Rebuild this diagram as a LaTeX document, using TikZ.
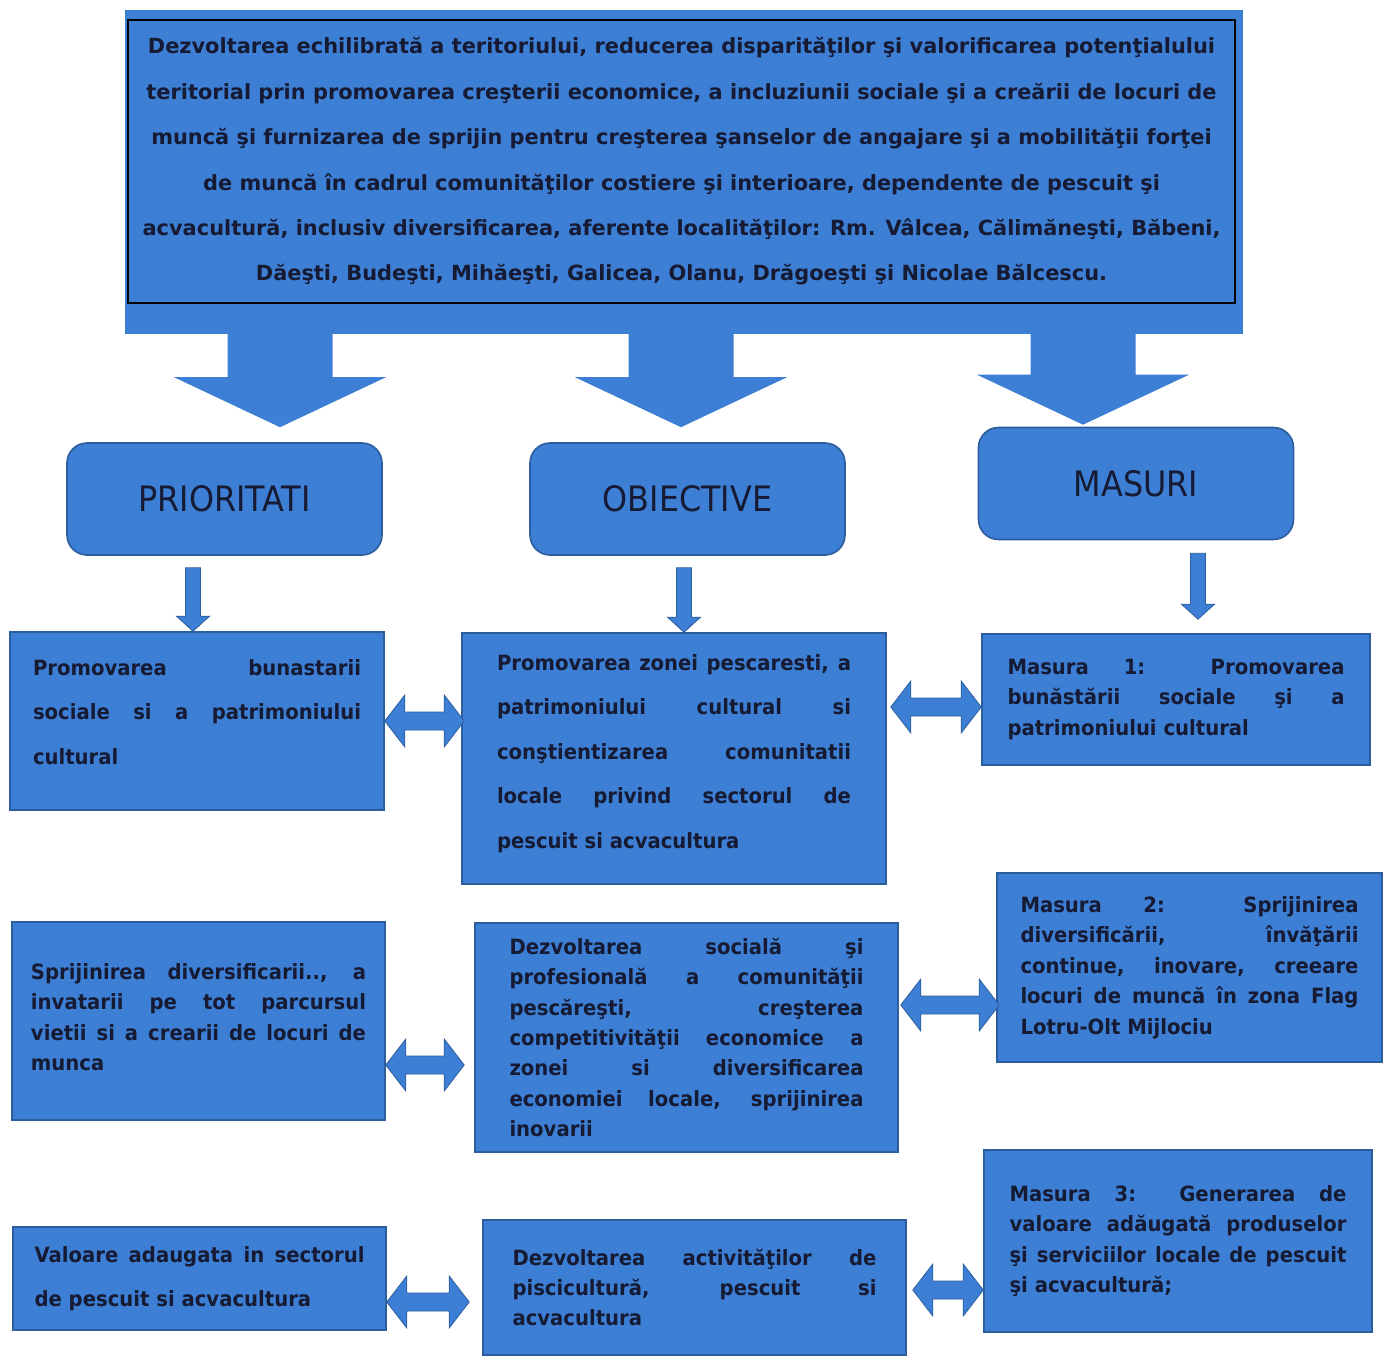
\documentclass[tikz,border=0pt]{standalone}
\usepackage{fontspec}
\setmainfont[FakeStretch=0.935]{DejaVu Sans}
\newfontfamily\titlefont[FakeStretch=0.91]{DejaVu Sans}
\newfontfamily\topfont{DejaVu Sans}
\usetikzlibrary{calc}
\definecolor{boxblue}{HTML}{3D7FD4}
\definecolor{edgeblue}{HTML}{2C5E9E}
\definecolor{ink}{HTML}{161A33}
\tikzset{
  box/.style={draw=edgeblue, fill=boxblue, line width=0.8pt, inner sep=0pt, text=ink, align=justify},
  headbox/.style={draw=edgeblue, fill=boxblue, line width=0.8pt, rounded corners=10pt, inner sep=0pt,
    text=ink, font=\titlefont\fontsize{17.5}{20}\selectfont, minimum width=157.5pt, minimum height=56pt},
  tightfont/.style={font=\bfseries\fontsize{10.5}{15.2}\selectfont},
  loosefont/.style={font=\bfseries\fontsize{10.5}{22.2}\selectfont},
  afill/.style={fill=boxblue, draw=edgeblue, line width=0.4pt},
  bigfill/.style={fill=boxblue},
}
\newcommand\BigDown[2]{\fill[bigfill] ($(#1)+(-26.25pt,0)$) -- ($(#2)+(-26.25pt,25pt)$) -- ($(#2)+(-53pt,25pt)$) -- (#2) -- ($(#2)+(53pt,25pt)$) -- ($(#2)+(26.25pt,25pt)$) -- ($(#1)+(26.25pt,0)$) -- cycle;}
\newcommand\SmallDown[2]{\filldraw[afill] ($(#1)+(-3.75pt,0)$) -- ($(#2)+(-3.75pt,7.5pt)$) -- ($(#2)+(-8.25pt,7.5pt)$) -- (#2) -- ($(#2)+(8.25pt,7.5pt)$) -- ($(#2)+(3.75pt,7.5pt)$) -- ($(#1)+(3.75pt,0)$) -- cycle;}
\newcommand\DblArrow[2]{\filldraw[afill] (#1) -- ($(#1)+(10pt,13pt)$) -- ($(#1)+(10pt,4.5pt)$) -- ($(#2)+(-10pt,4.5pt)$) -- ($(#2)+(-10pt,13pt)$) -- (#2) -- ($(#2)+(-10pt,-13pt)$) -- ($(#2)+(-10pt,-4.5pt)$) -- ($(#1)+(10pt,-4.5pt)$) -- ($(#1)+(10pt,-13pt)$) -- cycle;}
\begin{document}
\hyphenpenalty=10000
\exhyphenpenalty=10000
\begin{tikzpicture}[x=0.5pt,y=-0.5pt]
\useasboundingbox[fill=white] (0,0) rectangle (1386,1356);

% top box
\node[fill=boxblue, draw=boxblue, inner sep=0pt, minimum width=558.5pt, minimum height=161.5pt] (topout) at (683.5,171.5) {};
\node[draw=black, line width=1.2pt, inner sep=0pt, minimum width=553.5pt, minimum height=141.5pt,
  text=ink, align=center, font=\topfont\bfseries\fontsize{10.45}{22.7}\selectfont] (top) at (681.5,161.5)
{Dezvoltarea echilibrată a teritoriului, reducerea disparităţilor şi valorificarea potenţialului\\
teritorial prin promovarea creşterii economice, a incluziunii sociale şi a creării de locuri de\\
muncă şi furnizarea de sprijin pentru creşterea şanselor de angajare şi a mobilităţii forţei\\
de muncă în cadrul comunităţilor costiere şi interioare, dependente de pescuit şi\\
acvacultură, inclusiv diversificarea, aferente localităţilor: Rm. Vâlcea, Călimăneşti, Băbeni,\\
Dăeşti, Budeşti, Mihăeşti, Galicea, Olanu, Drăgoeşti şi Nicolae Bălcescu.};

% header boxes
\node[headbox] (pri) at (224.5,499) {PRIORITATI};
\node[headbox] (obj) at (687.5,499) {OBIECTIVE};
\node[headbox] (mas) at (1136,483.5) {MASURI};

% big arrows
\coordinate (s1) at (280,330);
\coordinate (s2) at (681,330);
\coordinate (s3) at (1083,330);
\coordinate (t1) at ($(s1 |- pri.north)+(0,7.5pt)$);
\coordinate (t2) at ($(s2 |- obj.north)+(0,7.5pt)$);
\coordinate (t3) at ($(s3 |- mas.north)+(0,1pt)$);
\BigDown{s1}{t1}
\BigDown{s2}{t2}
\BigDown{s3}{t3}

% row 1
\node[box, loosefont, minimum width=187pt, minimum height=89pt, text width=164pt] (l1) at (197,721)
{Promovarea bunastarii\linebreak sociale si a patrimoniului\linebreak cultural\par\vspace{9pt}};
\node[box, loosefont, minimum width=212pt, minimum height=125.5pt, text width=177pt] (m1) at (674,758.5)
{Promovarea zonei pescaresti, a\linebreak patrimoniului cultural si\linebreak conştientizarea comunitatii\linebreak locale privind sectorul de\linebreak pescuit si acvacultura\par\vspace{5pt}};
\node[box, tightfont, minimum width=194pt, minimum height=65.5pt, text width=168.5pt] (r1) at (1176,699.5)
{Masura 1: Promovarea\linebreak bunăstării sociale şi a\linebreak patrimoniului cultural};

% row 2
\node[box, tightfont, minimum width=186.5pt, minimum height=99pt, text width=167.5pt] (l2) at (198.5,1021)
{Sprijinirea diversificarii.., a\linebreak invatarii pe tot parcursul\linebreak vietii si a crearii de locuri de\linebreak munca\par\vspace{4pt}};
\node[box, tightfont, minimum width=211.5pt, minimum height=114.5pt, text width=177pt] (m2) at (686.5,1037.5)
{Dezvoltarea socială şi\linebreak profesională a comunităţii\linebreak pescăreşti, creşterea\linebreak competitivităţii economice a\linebreak zonei si diversificarea\linebreak economiei locale, sprijinirea\linebreak inovarii};
\node[box, tightfont, minimum width=192.5pt, minimum height=94.5pt, text width=169pt] (r2) at (1189.5,967.5)
{Masura 2: Sprijinirea\linebreak diversificării, învăţării\linebreak continue, inovare, creeare\linebreak locuri de muncă în zona Flag\linebreak Lotru-Olt Mijlociu};

% row 3
\node[box, loosefont, minimum width=186.5pt, minimum height=51.5pt, text width=165pt] (l3) at (199.5,1278.5)
{Valoare adaugata in sectorul\linebreak de pescuit si acvacultura};
\node[box, tightfont, minimum width=211.5pt, minimum height=67.5pt, text width=182pt] (m3) at (694.5,1287.5)
{Dezvoltarea activităţilor de\linebreak piscicultură, pescuit si\linebreak acvacultura};
\node[box, tightfont, minimum width=194pt, minimum height=91pt, text width=168.5pt] (r3) at (1178,1241)
{Masura 3: Generarea de\linebreak valoare adăugată produselor\linebreak şi serviciilor locale de pescuit\linebreak şi acvacultură;};

% small down arrows
\coordinate (d1a) at ($(pri.south)+(-15.75pt,-6pt)$);
\coordinate (d1b) at (d1a |- l1.north);
\coordinate (d2a) at ($(obj.south)+(-1.75pt,-6pt)$);
\coordinate (d2b) at (d2a |- m1.north);
\coordinate (d3a) at ($(mas.south)+(31pt,-6.5pt)$);
\coordinate (d3b) at ($(d3a |- r1.north)+(0,7pt)$);
\SmallDown{d1a}{d1b}
\SmallDown{d2a}{d2b}
\SmallDown{d3a}{d3b}

% double arrows
\coordinate (e1a) at (l1.east);
\coordinate (e1b) at ($(l1.east -| m1.west)+(1.5pt,0)$);
\coordinate (e2b) at ($(r1.west)+(0,-3.75pt)$);
\coordinate (e2a) at ($(e2b -| m1.east)+(2pt,0)$);
\coordinate (e3a) at ($(l2.east)+(0,-22pt)$);
\coordinate (e3b) at ($(e3a -| m2.west)+(-5pt,0)$);
\coordinate (e4b) at ($(r2.west)+(1.5pt,-18.75pt)$);
\coordinate (e4a) at ($(e4b -| m2.east)+(1pt,0)$);
\coordinate (e5a) at ($(l3.east)+(0,-11.75pt)$);
\coordinate (e5b) at ($(e5a -| m3.west)+(-6.5pt,0)$);
\coordinate (e6b) at ($(r3.west)+(0,-24.5pt)$);
\coordinate (e6a) at ($(e6b -| m3.east)+(3pt,0)$);
\DblArrow{e1a}{e1b}
\DblArrow{e2a}{e2b}
\DblArrow{e3a}{e3b}
\DblArrow{e4a}{e4b}
\DblArrow{e5a}{e5b}
\DblArrow{e6a}{e6b}
\end{tikzpicture}
\end{document}
